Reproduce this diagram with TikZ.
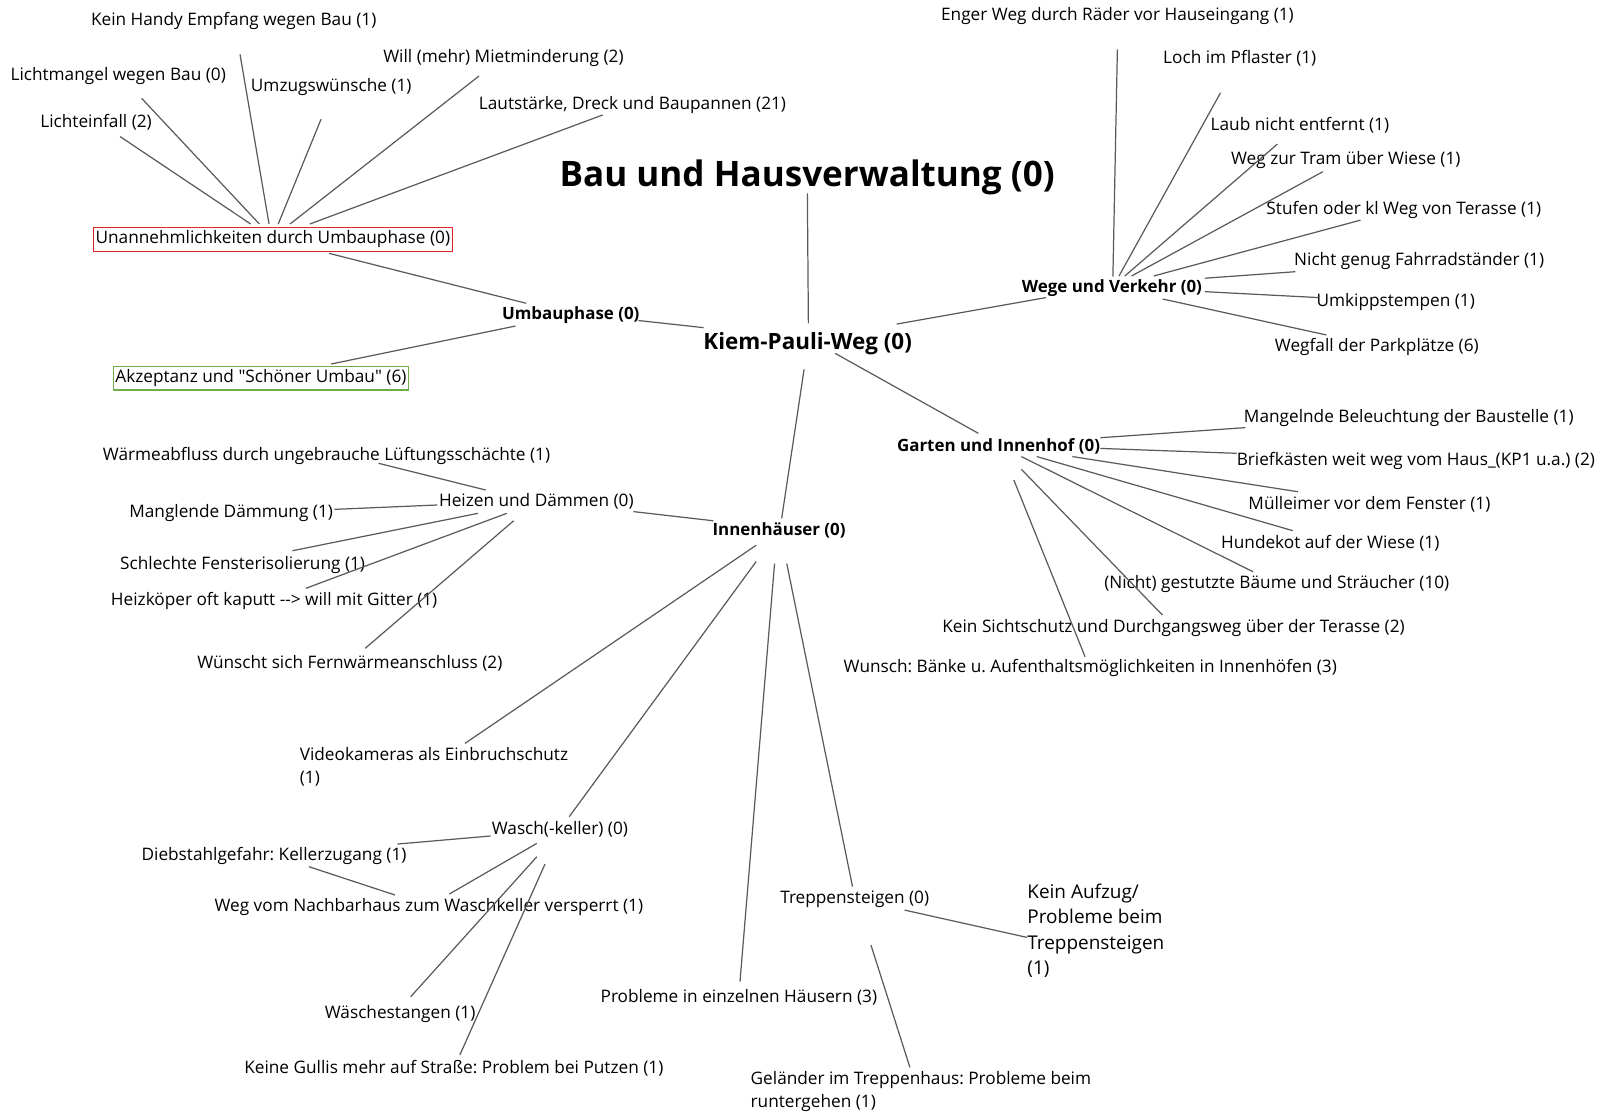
\documentclass[tikz,border=0pt]{standalone}
\usepackage{fontspec}
\setmainfont{Open Sans}[Ligatures = TeXOff]
\frenchspacing
\definecolor{linegray}{RGB}{90,90,90}
\definecolor{boxred}{RGB}{222,40,40}
\definecolor{boxgreen}{RGB}{112,173,71}

\begin{document}
\begin{tikzpicture}[x = 0.5pt, y = -0.5pt]
    \useasboundingbox (0, 0) rectangle (1568, 1091);

    \tikzstyle{leaf} = [inner sep = 0pt, font = \fontsize{8.45}{11.2}\selectfont]
    \tikzstyle{branch} = [inner sep = 0pt, font = \fontsize{8.3}{11.2}\selectfont\bfseries]
    \tikzstyle{hub} = [inner sep = 0pt, font = \fontsize{11}{13}\selectfont\bfseries]
    \tikzstyle{title} = [inner sep = 0pt, font = \fontsize{17.2}{20}\selectfont\bfseries]
    \tikzstyle{big} = [inner sep = 0pt, font = \fontsize{9.3}{12.5}\selectfont]
    \tikzstyle{framed} = [draw, line width = 0.6pt, inner xsep = 1pt, inner ysep = 1.6pt]
    \tikzstyle{link} = [draw = linegray, line width = 0.6pt]

    \node[title] (bau) at (792, 174) {Bau und Hausverwaltung (0)};
    \node[hub] (kiem) at (792.5, 337.5) {Kiem-Pauli-Weg (0)};

    \node[branch] (umbau) at (560, 309.5) {Umbauphase (0)};
    \node[leaf, framed, draw = boxred] (unan) at (267.7, 235) {Unannehmlichkeiten durch Umbauphase (0)};
    \node[leaf, framed, draw = boxgreen] (akz) at (256, 371) {Akzeptanz und "Schöner Umbau" (6)};
    \node[leaf] (licht) at (94.3, 120.4) {Lichteinfall (2)};
    \node[leaf] (lmangel) at (116, 74.5) {Lichtmangel wegen Bau (0)};
    \node[leaf] (handy) at (229.3, 20.5) {Kein Handy Empfang wegen Bau (1)};
    \node[leaf] (umzug) at (325, 85.5) {Umzugswünsche (1)};
    \node[leaf] (miete) at (494, 57) {Will (mehr) Mietminderung (2)};
    \node[leaf] (laut) at (620.6, 103) {Lautstärke, Dreck und Baupannen (21)};

    \node[branch] (wege) at (1091, 283) {Wege und Verkehr (0)};
    \node[leaf] (enger) at (1096.5, 15.5) {Enger Weg durch Räder vor Hauseingang (1)};
    \node[leaf] (loch) at (1216.5, 57.5) {Loch im Pflaster (1)};
    \node[leaf] (laub) at (1275.5, 123) {Laub nicht entfernt (1)};
    \node[leaf] (tram) at (1320.5, 157.5) {Weg zur Tram über Wiese (1)};
    \node[leaf] (stufen) at (1377.5, 206) {Stufen oder kl Weg von Terasse (1)};
    \node[leaf] (rad) at (1392.5, 256.5) {Nicht genug Fahrradständer (1)};
    \node[leaf] (kipp) at (1369.5, 296) {Umkippstempen (1)};
    \node[leaf] (park) at (1351, 340) {Wegfall der Parkplätze (6)};

    \node[branch] (garten) at (979.8, 438.3) {Garten und Innenhof (0)};
    \node[leaf] (beleucht) at (1382.3, 410.5) {Mangelnde Beleuchtung der Baustelle (1)};
    \node[leaf] (brief) at (1389.3, 452) {Briefkästen weit weg vom Haus\_(KP1 u.a.) (2)};
    \node[leaf] (muell) at (1343.7, 494.6) {Mülleimer vor dem Fenster (1)};
    \node[leaf] (hund) at (1305.3, 533) {Hundekot auf der Wiese (1)};
    \node[leaf] (baum) at (1252.8, 573) {(Nicht) gestutzte Bäume und Sträucher (10)};
    \node[leaf] (sicht) at (1151.5, 616.5) {Kein Sichtschutz und Durchgangsweg über der Terasse (2)};
    \node[leaf] (bank) at (1069.8, 655.8) {Wunsch: Bänke u. Aufenthaltsmöglichkeiten in Innenhöfen (3)};

    \node[branch] (innen) at (764.5, 520) {Innenhäuser (0)};
    \node[leaf] (heizen) at (526.3, 492.3) {Heizen und Dämmen (0)};
    \node[leaf] (waerme) at (320.4, 447) {Wärmeabfluss durch ungebrauche Lüftungsschächte (1)};
    \node[leaf] (daemm) at (226.8, 503.7) {Manglende Dämmung (1)};
    \node[leaf] (fenster) at (238.1, 554) {Schlechte Fensterisolierung (1)};
    \node[leaf] (heizk) at (269, 590) {Heizköper oft kaputt --> will mit Gitter (1)};
    \node[leaf] (fern) at (343.3, 651) {Wünscht sich Fernwärmeanschluss (2)};
    \node[leaf, anchor = west, align = left] (video) at (293.8, 752.5) {Videokameras als Einbruchschutz\\(1)};
    \node[leaf] (wasch) at (549.4, 814) {Wasch(-keller) (0)};
    \node[leaf] (dieb) at (268.9, 840) {Diebstahlgefahr: Kellerzugang (1)};
    \node[leaf] (nachbar) at (420.8, 889.5) {Weg vom Nachbarhaus zum Waschkeller versperrt (1)};
    \node[leaf] (stangen) at (392.6, 995) {Wäschestangen (1)};
    \node[leaf] (gullis) at (445.3, 1048.5) {Keine Gullis mehr auf Straße: Problem bei Putzen (1)};
    \node[leaf] (haeuser) at (725, 979) {Probleme in einzelnen Häusern (3)};
    \node[leaf] (treppe) at (838.7, 882.5) {Treppensteigen (0)};
    \node[big, anchor = west, align = left] (aufzug) at (1007.7, 913.5) {Kein Aufzug/\\Probleme beim\\Treppensteigen\\(1)};
    \node[leaf, anchor = west, align = left] (gelaender) at (736.2, 1071) {Geländer im Treppenhaus: Probleme beim\\runtergehen (1)};

    \draw[link] ([shift = {(0.7, -20.2)}]kiem.center) -- ([shift = {(0.2, 15.7)}]bau.center);
    \draw[link] ([shift = {(-102.1, -16)}]kiem.center) -- ([shift = {(66.4, 5)}]umbau.center);
    \draw[link] ([shift = {(87.3, -19.5)}]kiem.center) -- ([shift = {(-64.6, 9)}]wege.center);
    \draw[link] ([shift = {(26.9, 9.2)}]kiem.center) -- ([shift = {(-19.8, -13.1)}]garten.center);
    \draw[link] ([shift = {(-3.5, 24.9)}]kiem.center) -- ([shift = {(2.5, -11.4)}]innen.center);

    \draw[link] ([shift = {(-43.7, -11.9)}]umbau.center) -- ([shift = {(55.2, 13.6)}]unan.center);
    \draw[link] ([shift = {(-54.2, 10.4)}]umbau.center) -- ([shift = {(68.8, -13.8)}]akz.center);
    \draw[link] ([shift = {(-21.7, -15.2)}]unan.center) -- ([shift = {(23.5, 13.6)}]licht.center);
    \draw[link] ([shift = {(-13.2, -15.2)}]unan.center) -- ([shift = {(23, 22)}]lmangel.center);
    \draw[link] ([shift = {(-3.7, -15.2)}]unan.center) -- ([shift = {(6.2, 32.8)}]handy.center);
    \draw[link] ([shift = {(5.3, -15.2)}]unan.center) -- ([shift = {(-10, 31.5)}]umzug.center);
    \draw[link] ([shift = {(16.9, -15.2)}]unan.center) -- ([shift = {(-24, 17.6)}]miete.center);
    \draw[link] ([shift = {(36.3, -15.2)}]unan.center) -- ([shift = {(-29.2, 9.8)}]laut.center);

    \draw[link] ([shift = {(1, -11.5)}]wege.center) -- ([shift = {(-0.1, 32.9)}]enger.center);
    \draw[link] ([shift = {(7, -12.2)}]wege.center) -- ([shift = {(-18.9, 33.5)}]loch.center);
    \draw[link] ([shift = {(12.7, -12.2)}]wege.center) -- ([shift = {(-22, 18.3)}]laub.center);
    \draw[link] ([shift = {(19.3, -12.2)}]wege.center) -- ([shift = {(-22.5, 11)}]tram.center);
    \draw[link] ([shift = {(41, -12.2)}]wege.center) -- ([shift = {(-42.5, 10)}]stufen.center);
    \draw[link] ([shift = {(91.3, -10)}]wege.center) -- ([shift = {(-121.5, 10.1)}]rad.center);
    \draw[link] ([shift = {(91.3, 3.2)}]wege.center) -- ([shift = {(-75.8, -4)}]kipp.center);
    \draw[link] ([shift = {(49.8, 10.4)}]wege.center) -- ([shift = {(-49.5, -11.3)}]park.center);

    \draw[link] ([shift = {(99.9, -8.8)}]garten.center) -- ([shift = {(-160.3, 9.1)}]beleucht.center);
    \draw[link] ([shift = {(99.9, 1.7)}]garten.center) -- ([shift = {(-175.8, -7.2)}]brief.center);
    \draw[link] ([shift = {(72.4, 9.7)}]garten.center) -- ([shift = {(-70.2, -12.1)}]muell.center);
    \draw[link] ([shift = {(37.5, 9.7)}]garten.center) -- ([shift = {(-36.8, -12.3)}]hund.center);
    \draw[link] ([shift = {(22.4, 9.7)}]garten.center) -- ([shift = {(-23.3, -12)}]baum.center);
    \draw[link] ([shift = {(22.4, 22.2)}]garten.center) -- ([shift = {(-10.9, -13)}]sicht.center);
    \draw[link] ([shift = {(15, 32.7)}]garten.center) -- ([shift = {(-5.1, -11.4)}]bank.center);

    \draw[link] ([shift = {(-64.5, -9)}]innen.center) -- ([shift = {(95.2, 9.7)}]heizen.center);
    \draw[link] ([shift = {(-22.5, 15)}]innen.center) -- ([shift = {(162.5, -23.1)}]video.west);
    \draw[link] ([shift = {(-22.5, 31)}]innen.center) -- ([shift = {(9.1, -12.6)}]wasch.center);
    \draw[link] ([shift = {(-4.5, 33)}]innen.center) -- ([shift = {(1.1, -15.8)}]haeuser.center);
    \draw[link] ([shift = {(7.5, 33)}]innen.center) -- ([shift = {(-2.2, -12.5)}]treppe.center);

    \draw[link] ([shift = {(-49.7, -11.5)}]heizen.center) -- ([shift = {(51, 7.6)}]waerme.center);
    \draw[link] ([shift = {(-97.1, 3.2)}]heizen.center) -- ([shift = {(101.4, -3.9)}]daemm.center);
    \draw[link] ([shift = {(-57.3, 11.4)}]heizen.center) -- ([shift = {(48.8, -13.6)}]fenster.center);
    \draw[link] ([shift = {(-29.1, 11.4)}]heizen.center) -- ([shift = {(31, -12.7)}]heizk.center);
    \draw[link] ([shift = {(-22.3, 18.7)}]heizen.center) -- ([shift = {(15, -14.8)}]fern.center);

    \draw[link] ([shift = {(-68, 6.3)}]wasch.center) -- ([shift = {(121, -11.8)}]dieb.center);
    \draw[link] ([shift = {(-22.6, 13.5)}]wasch.center) -- ([shift = {(20, -12.2)}]nachbar.center);
    \draw[link] ([shift = {(-22.6, 26.6)}]wasch.center) -- ([shift = {(10.4, -17)}]stangen.center);
    \draw[link] ([shift = {(-14.6, 33.8)}]wasch.center) -- ([shift = {(5.9, -13.3)}]gullis.center);
    \draw[link] ([shift = {(34.2, 10.4)}]dieb.center) -- ([shift = {(-33.3, -11.3)}]nachbar.center);

    \draw[link] ([shift = {(48.9, 10.5)}]treppe.center) -- ([shift = {(0, 6.3)}]aufzug.west);
    \draw[link] ([shift = {(15.9, 44.8)}]treppe.center) -- ([shift = {(156.6, -23.7)}]gelaender.west);
\end{tikzpicture}
\end{document}
